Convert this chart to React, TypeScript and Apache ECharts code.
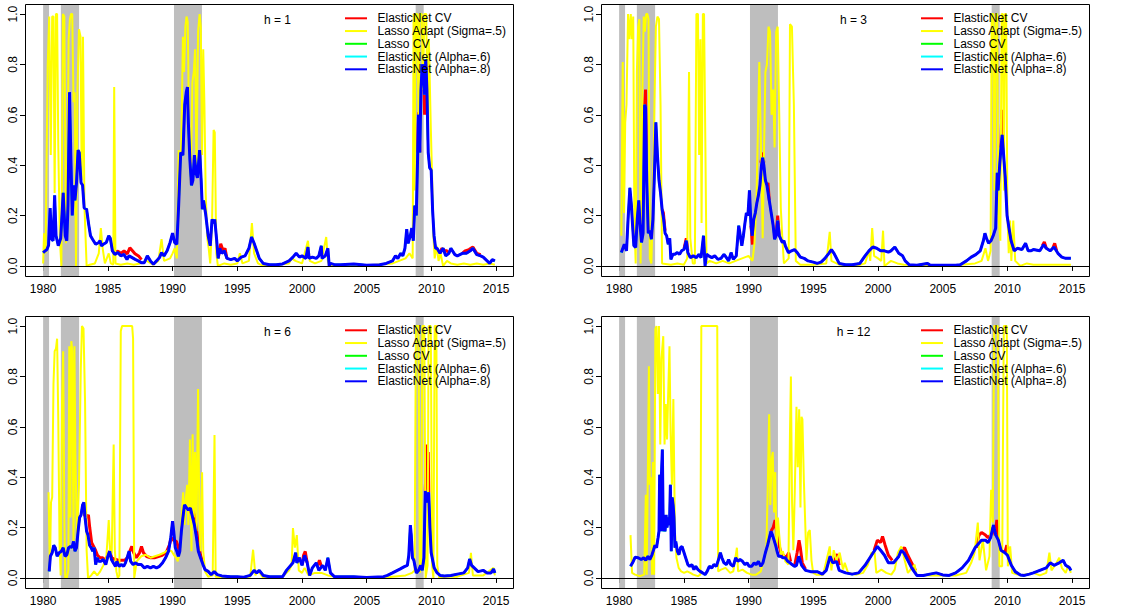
import React, { useEffect, useRef } from "react";
import * as echarts from "echarts";

// ---------------- data ----------------
const xTicks = [1980, 1985, 1990, 1995, 2000, 2005, 2010, 2015];
const yTicks = [0, 0.2, 0.4, 0.6, 0.8, 1.0];
const recessions = [
  [1980.0, 1980.46],
  [1981.37, 1982.78],
  [1990.11, 1992.27],
  [2008.78, 2009.4],
];
const seriesNames = [
  "ElasticNet CV",
  "Lasso Adapt (Sigma=.5)",
  "Lasso CV",
  "ElasticNet (Alpha=.6)",
  "ElasticNet (Alpha=.8)",
];
const seriesColors = ["#FF0000", "#FFFF00", "#00FF00", "#00FFFF", "#0000FF"];
const horizonLabels = ["h = 1", "h = 3", "h = 6", "h = 12"];

const blueH1 = [[1980.0,0.053],[1980.3,0.066],[1980.42,0.082],[1980.54,0.23],[1980.66,0.106],[1980.77,0.1],[1980.89,0.28],[1981.0,0.12],[1981.17,0.08],[1981.36,0.11],[1981.55,0.29],[1981.71,0.12],[1981.83,0.1],[1981.92,0.24],[1982.04,0.69],[1982.14,0.44],[1982.25,0.2],[1982.35,0.32],[1982.46,0.26],[1982.58,0.33],[1982.7,0.46],[1982.79,0.45],[1982.93,0.33],[1983.05,0.32],[1983.17,0.23],[1983.36,0.225],[1983.52,0.165],[1983.66,0.12],[1983.83,0.105],[1984.06,0.086],[1984.3,0.093],[1984.4,0.1],[1984.5,0.08],[1984.65,0.086],[1984.88,0.093],[1985.07,0.12],[1985.19,0.11],[1985.35,0.06],[1985.54,0.046],[1985.77,0.053],[1986.0,0.04],[1986.24,0.046],[1986.48,0.026],[1986.64,0.04],[1986.88,0.033],[1987.11,0.026],[1987.35,0.02],[1987.58,0.013],[1987.82,0.013],[1988.05,0.04],[1988.29,0.02],[1988.52,0.007],[1988.76,0.02],[1988.99,0.033],[1989.15,0.053],[1989.34,0.04],[1989.58,0.06],[1989.81,0.093],[1990.0,0.13],[1990.16,0.093],[1990.33,0.086],[1990.47,0.24],[1990.63,0.45],[1990.8,0.44],[1990.94,0.64],[1991.06,0.69],[1991.15,0.71],[1991.22,0.57],[1991.34,0.42],[1991.46,0.32],[1991.57,0.34],[1991.69,0.44],[1991.81,0.37],[1991.92,0.35],[1992.09,0.46],[1992.21,0.34],[1992.3,0.225],[1992.39,0.26],[1992.56,0.205],[1992.75,0.12],[1992.91,0.08],[1993.05,0.185],[1993.17,0.17],[1993.26,0.185],[1993.4,0.106],[1993.52,0.03],[1993.65,0.07],[1993.8,0.05],[1994.0,0.06],[1994.2,0.03],[1994.5,0.025],[1994.8,0.03],[1995.0,0.02],[1995.3,0.035],[1995.6,0.04],[1995.9,0.07],[1996.1,0.115],[1996.3,0.09],[1996.5,0.06],[1996.7,0.03],[1997.0,0.01],[1997.5,0.005],[1998.0,0.005],[1998.5,0.008],[1999.0,0.02],[1999.3,0.035],[1999.55,0.05],[1999.8,0.035],[2000.0,0.04],[2000.3,0.03],[2000.46,0.075],[2000.55,0.03],[2000.8,0.035],[2001.1,0.03],[2001.3,0.04],[2001.49,0.08],[2001.55,0.03],[2001.8,0.04],[2002.0,0.07],[2002.1,0.0],[2002.2,0.01],[2002.5,0.005],[2003.0,0.005],[2004.0,0.008],[2005.0,0.003],[2006.0,0.005],[2006.5,0.01],[2006.99,0.02],[2007.22,0.04],[2007.4,0.03],[2007.63,0.05],[2007.79,0.04],[2007.95,0.07],[2008.09,0.146],[2008.2,0.09],[2008.37,0.12],[2008.48,0.15],[2008.6,0.1],[2008.71,0.24],[2008.83,0.2],[2008.94,0.45],[2009.0,0.6],[2009.1,0.45],[2009.19,0.7],[2009.29,0.8],[2009.4,0.78],[2009.47,0.68],[2009.56,0.82],[2009.65,0.7],[2009.75,0.45],[2009.86,0.39],[2009.98,0.38],[2010.09,0.22],[2010.2,0.12],[2010.32,0.07],[2010.43,0.07],[2010.66,0.05],[2010.9,0.07],[2011.1,0.04],[2011.35,0.05],[2011.5,0.07],[2011.81,0.045],[2012.0,0.04],[2012.39,0.05],[2012.7,0.05],[2013.0,0.06],[2013.2,0.07],[2013.5,0.045],[2013.8,0.04],[2014.0,0.035],[2014.3,0.02],[2014.5,0.01],[2014.7,0.025],[2014.9,0.02]];

const yellowH1 = [[1980.0,0.01],[1980.07,0.13],[1980.19,0.05],[1980.35,0.79],[1980.47,0.99],[1980.59,0.44],[1980.7,0.99],[1980.8,0.99],[1980.89,0.29],[1980.99,1.0],[1981.08,1.0],[1981.17,0.48],[1981.29,0.11],[1981.41,0.0],[1981.53,1.0],[1981.64,0.99],[1981.76,0.09],[1981.88,0.34],[1981.97,0.9],[1982.07,0.98],[1982.16,1.0],[1982.25,1.0],[1982.35,0.65],[1982.44,0.69],[1982.54,0.0],[1982.65,0.69],[1982.77,0.94],[1982.89,0.91],[1982.98,0.34],[1983.08,0.91],[1983.19,0.24],[1983.36,0.0],[1983.6,0.005],[1984.0,0.01],[1984.3,0.05],[1984.46,0.15],[1984.6,0.07],[1984.77,0.01],[1985.07,0.05],[1985.23,0.01],[1985.42,0.005],[1985.49,0.71],[1985.59,0.01],[1986.0,0.005],[1986.5,0.01],[1987.0,0.005],[1987.5,0.01],[1988.0,0.02],[1988.5,0.005],[1988.9,0.02],[1989.15,0.106],[1989.34,0.02],[1989.81,0.03],[1990.0,0.05],[1990.16,0.07],[1990.33,0.03],[1990.47,0.46],[1990.56,0.29],[1990.68,0.5],[1990.8,0.91],[1990.89,0.77],[1990.99,0.95],[1991.08,0.99],[1991.17,0.97],[1991.29,0.5],[1991.41,0.33],[1991.53,0.73],[1991.64,0.77],[1991.74,0.86],[1991.85,0.37],[1991.97,0.93],[1992.09,1.0],[1992.18,0.95],[1992.28,0.44],[1992.37,0.86],[1992.46,0.64],[1992.56,0.29],[1992.68,0.11],[1992.79,0.07],[1992.91,0.01],[1993.05,0.17],[1993.17,0.54],[1993.26,0.53],[1993.38,0.05],[1993.5,0.0],[1994.0,0.01],[1994.5,0.005],[1995.0,0.01],[1995.2,0.05],[1995.4,0.01],[1995.9,0.02],[1996.13,0.17],[1996.3,0.05],[1996.6,0.01],[1997.0,0.0],[1998.0,0.005],[1999.0,0.01],[1999.2,0.03],[1999.5,0.02],[2000.0,0.01],[2000.46,0.1],[2000.6,0.02],[2001.0,0.01],[2001.5,0.02],[2001.87,0.115],[2002.0,0.02],[2002.1,0.0],[2003.0,0.003],[2005.0,0.002],[2007.0,0.01],[2007.5,0.02],[2008.0,0.03],[2008.3,0.05],[2008.55,0.03],[2008.62,1.0],[2008.7,0.3],[2008.78,1.0],[2008.9,1.0],[2009.0,0.6],[2009.08,1.0],[2009.25,1.0],[2009.35,0.7],[2009.45,1.0],[2009.6,1.0],[2009.7,0.5],[2009.8,0.9],[2009.95,0.55],[2010.05,0.35],[2010.15,0.12],[2010.25,0.03],[2010.4,0.08],[2010.55,0.02],[2010.7,0.05],[2010.9,0.0],[2011.2,0.02],[2011.5,0.01],[2012.0,0.005],[2012.5,0.01],[2013.0,0.005],[2013.5,0.01],[2014.0,0.005],[2014.5,0.01],[2014.9,0.005]];

const redH1 = [
  [[1985.3,0.065],[1985.5,0.055],[1985.8,0.058],[1986.0,0.05],[1986.25,0.06],[1986.5,0.048],[1986.7,0.072],[1986.9,0.06],[1987.1,0.048],[1987.4,0.038],[1987.6,0.025]],
  [[1993.52,0.03],[1993.72,0.088],[1993.9,0.06],[1994.05,0.07],[1994.2,0.03]],
  [[2008.94,0.45],[2009.0,0.61],[2009.1,0.45]],
  [[2009.4,0.78],[2009.47,0.6],[2009.5,0.64],[2009.56,0.82]],
  [[2010.66,0.05],[2010.8,0.07],[2011.0,0.06],[2011.2,0.06],[2011.35,0.05]],
  [[2012.39,0.05],[2012.6,0.06],[2012.9,0.065],[2013.2,0.075],[2013.5,0.05],[2013.8,0.045]],
];

const blueH3 = [[1980.17,0.053],[1980.4,0.086],[1980.57,0.06],[1980.69,0.185],[1980.83,0.31],[1980.95,0.24],[1981.04,0.16],[1981.14,0.08],[1981.28,0.073],[1981.4,0.185],[1981.52,0.26],[1981.61,0.17],[1981.73,0.093],[1981.85,0.13],[1981.97,0.64],[1982.04,0.63],[1982.13,0.34],[1982.25,0.13],[1982.37,0.14],[1982.49,0.106],[1982.61,0.185],[1982.73,0.37],[1982.84,0.57],[1982.96,0.44],[1983.08,0.34],[1983.2,0.29],[1983.32,0.225],[1983.44,0.185],[1983.55,0.13],[1983.67,0.12],[1983.79,0.086],[1983.91,0.11],[1984.0,0.026],[1984.15,0.046],[1984.31,0.046],[1984.5,0.053],[1984.67,0.046],[1984.83,0.06],[1985.02,0.066],[1985.19,0.1],[1985.31,0.053],[1985.5,0.033],[1985.73,0.04],[1985.97,0.033],[1986.16,0.046],[1986.33,0.033],[1986.52,0.12],[1986.64,0.0],[1986.75,0.046],[1986.92,0.04],[1987.16,0.033],[1987.39,0.04],[1987.63,0.026],[1987.87,0.03],[1988.1,0.046],[1988.29,0.033],[1988.46,0.02],[1988.65,0.053],[1988.82,0.026],[1989.05,0.04],[1989.24,0.16],[1989.36,0.12],[1989.48,0.08],[1989.6,0.12],[1989.72,0.17],[1989.83,0.21],[1989.95,0.2],[1990.07,0.3],[1990.19,0.16],[1990.28,0.12],[1990.4,0.185],[1990.52,0.21],[1990.64,0.25],[1990.76,0.28],[1990.88,0.32],[1991.0,0.4],[1991.09,0.43],[1991.18,0.4],[1991.3,0.34],[1991.42,0.32],[1991.54,0.28],[1991.66,0.24],[1991.78,0.2],[1991.9,0.16],[1992.01,0.106],[1992.13,0.12],[1992.25,0.18],[1992.37,0.12],[1992.49,0.106],[1992.61,0.093],[1992.73,0.1],[1992.84,0.08],[1993.08,0.053],[1993.32,0.06],[1993.55,0.065],[1993.8,0.05],[1994.0,0.035],[1994.3,0.03],[1994.6,0.02],[1995.0,0.015],[1995.3,0.01],[1995.6,0.015],[1995.9,0.03],[1996.2,0.05],[1996.4,0.065],[1996.6,0.05],[1996.8,0.03],[1997.0,0.01],[1997.5,0.005],[1998.0,0.005],[1998.6,0.01],[1999.0,0.04],[1999.3,0.06],[1999.6,0.075],[1999.9,0.07],[2000.2,0.06],[2000.5,0.06],[2000.8,0.055],[2001.0,0.06],[2001.3,0.075],[2001.6,0.05],[2001.9,0.04],[2002.1,0.02],[2002.4,0.005],[2003.0,0.003],[2003.8,0.01],[2004.0,0.004],[2005.0,0.003],[2006.0,0.003],[2006.35,0.005],[2006.83,0.02],[2007.2,0.035],[2007.55,0.045],[2007.9,0.06],[2008.14,0.1],[2008.26,0.13],[2008.38,0.11],[2008.54,0.09],[2008.73,0.1],[2008.9,0.12],[2009.09,0.15],[2009.21,0.37],[2009.28,0.3],[2009.4,0.4],[2009.5,0.47],[2009.59,0.52],[2009.69,0.45],[2009.83,0.35],[2009.97,0.2],[2010.12,0.15],[2010.28,0.1],[2010.52,0.06],[2010.76,0.07],[2011.12,0.065],[2011.4,0.09],[2011.6,0.06],[2011.83,0.06],[2012.0,0.065],[2012.5,0.06],[2012.8,0.085],[2013.0,0.07],[2013.3,0.06],[2013.6,0.075],[2013.9,0.05],[2014.2,0.035],[2014.5,0.03],[2014.9,0.03]];

const yellowH3 = [[1980.17,0.12],[1980.28,0.81],[1980.38,0.21],[1980.47,0.57],[1980.57,0.64],[1980.69,1.0],[1980.81,0.9],[1980.9,1.0],[1981.0,0.9],[1981.09,0.99],[1981.18,0.17],[1981.28,0.01],[1981.37,0.77],[1981.47,0.95],[1981.56,0.98],[1981.66,0.01],[1981.8,0.7],[1981.9,0.99],[1981.99,0.93],[1982.09,1.0],[1982.18,1.0],[1982.27,0.98],[1982.37,0.03],[1982.49,0.01],[1982.61,0.24],[1982.73,0.64],[1982.84,0.95],[1982.96,0.99],[1983.08,0.98],[1983.2,0.64],[1983.32,0.01],[1984.0,0.005],[1984.5,0.01],[1985.0,0.005],[1985.26,0.03],[1985.4,0.77],[1985.5,0.11],[1985.69,0.01],[1985.85,0.01],[1985.97,1.0],[1986.09,1.0],[1986.18,0.44],[1986.28,0.9],[1986.37,0.17],[1986.47,1.0],[1986.56,1.0],[1986.66,0.5],[1986.75,0.01],[1987.0,0.02],[1987.5,0.01],[1988.0,0.02],[1988.5,0.01],[1989.0,0.02],[1989.5,0.03],[1990.0,0.04],[1990.3,0.02],[1990.45,0.086],[1990.6,0.24],[1990.83,0.81],[1990.95,0.5],[1991.09,0.11],[1991.2,0.47],[1991.3,0.77],[1991.42,0.8],[1991.54,0.95],[1991.66,0.93],[1991.78,0.6],[1991.9,0.7],[1992.01,0.47],[1992.13,0.93],[1992.25,0.95],[1992.37,0.6],[1992.49,0.23],[1992.61,0.11],[1992.73,0.01],[1993.1,0.03],[1993.2,0.96],[1993.35,0.95],[1993.5,0.64],[1993.65,0.02],[1994.0,0.005],[1995.0,0.005],[1996.0,0.01],[1996.27,0.135],[1996.4,0.02],[1997.0,0.005],[1998.5,0.003],[1999.0,0.01],[1999.3,0.06],[1999.4,0.02],[1999.55,0.15],[1999.7,0.04],[2000.0,0.03],[2000.25,0.02],[2000.39,0.14],[2000.5,0.0],[2001.0,0.02],[2001.5,0.01],[2002.0,0.005],[2004.0,0.003],[2006.0,0.003],[2007.5,0.01],[2008.0,0.02],[2008.3,0.07],[2008.5,0.02],[2008.7,0.06],[2008.78,1.0],[2008.9,1.0],[2009.0,0.3],[2009.1,1.0],[2009.2,1.0],[2009.3,0.2],[2009.45,0.1],[2009.55,1.0],[2009.65,1.0],[2009.72,0.3],[2009.8,1.0],[2009.9,1.0],[2010.0,0.2],[2010.1,0.05],[2010.2,0.18],[2010.3,0.02],[2010.45,0.18],[2010.6,0.02],[2011.0,0.0],[2011.5,0.01],[2012.0,0.005],[2013.0,0.005],[2014.0,0.005],[2014.9,0.005]];

const redH3 = [
  [[1981.97,0.64],[1982.04,0.7],[1982.13,0.34]],
  [[1983.32,0.225],[1983.42,0.21],[1983.55,0.14]],
  [[1985.02,0.07],[1985.19,0.11],[1985.31,0.06]],
  [[1990.19,0.16],[1990.3,0.085],[1990.4,0.185]],
  [[1990.95,0.41],[1991.09,0.45],[1991.18,0.41]],
  [[1991.42,0.32],[1991.5,0.33],[1991.6,0.26]],
  [[1992.13,0.12],[1992.25,0.2],[1992.37,0.12]],
  [[2009.5,0.47],[2009.56,0.62],[2009.6,0.52]],
  [[2012.7,0.08],[2012.85,0.095],[2013.0,0.07]],
  [[2013.5,0.07],[2013.65,0.09],[2013.8,0.06]],
];

const blueH6 = [[1980.47,0.026],[1980.56,0.086],[1980.7,0.1],[1980.82,0.13],[1980.94,0.12],[1981.08,0.086],[1981.24,0.1],[1981.41,0.106],[1981.55,0.12],[1981.69,0.086],[1981.83,0.092],[1981.97,0.12],[1982.11,0.125],[1982.23,0.12],[1982.35,0.145],[1982.46,0.106],[1982.58,0.12],[1982.7,0.185],[1982.82,0.24],[1982.93,0.25],[1983.05,0.29],[1983.15,0.3],[1983.24,0.24],[1983.36,0.185],[1983.47,0.17],[1983.59,0.13],[1983.71,0.12],[1983.83,0.106],[1983.94,0.12],[1984.06,0.053],[1984.18,0.08],[1984.3,0.066],[1984.46,0.066],[1984.65,0.073],[1984.84,0.053],[1985.0,0.086],[1985.14,0.106],[1985.28,0.073],[1985.42,0.06],[1985.59,0.046],[1985.7,0.066],[1985.87,0.046],[1986.06,0.053],[1986.22,0.046],[1986.36,0.06],[1986.53,0.086],[1986.64,0.106],[1986.76,0.066],[1986.95,0.053],[1987.11,0.06],[1987.35,0.053],[1987.58,0.053],[1987.82,0.04],[1988.05,0.046],[1988.29,0.04],[1988.52,0.046],[1988.76,0.04],[1988.99,0.046],[1989.23,0.06],[1989.46,0.08],[1989.69,0.106],[1989.86,0.16],[1990.0,0.225],[1990.09,0.185],[1990.21,0.12],[1990.33,0.106],[1990.45,0.086],[1990.56,0.106],[1990.68,0.185],[1990.8,0.24],[1990.92,0.29],[1991.06,0.28],[1991.22,0.27],[1991.38,0.277],[1991.55,0.24],[1991.69,0.21],[1991.85,0.16],[1991.99,0.106],[1992.16,0.08],[1992.35,0.053],[1992.51,0.033],[1992.75,0.026],[1992.98,0.013],[1993.22,0.025],[1993.45,0.013],[1993.8,0.008],[1994.5,0.005],[1995.0,0.005],[1995.5,0.003],[1996.0,0.01],[1996.3,0.03],[1996.5,0.02],[1996.7,0.03],[1997.0,0.01],[1997.5,0.005],[1998.5,0.005],[1998.8,0.03],[1999.3,0.06],[1999.51,0.1],[1999.6,0.06],[1999.8,0.08],[2000.0,0.05],[2000.2,0.09],[2000.4,0.06],[2000.59,0.01],[2000.8,0.04],[2001.1,0.06],[2001.3,0.03],[2001.6,0.05],[2001.8,0.03],[2002.0,0.08],[2002.2,0.02],[2002.5,0.005],[2004.0,0.005],[2005.0,0.002],[2006.3,0.005],[2006.6,0.01],[2006.99,0.02],[2007.56,0.035],[2007.91,0.045],[2008.14,0.05],[2008.25,0.09],[2008.37,0.21],[2008.44,0.17],[2008.53,0.08],[2008.64,0.07],[2008.83,0.02],[2009.01,0.03],[2009.17,0.05],[2009.29,0.03],[2009.42,0.08],[2009.52,0.345],[2009.65,0.3],[2009.79,0.34],[2009.88,0.2],[2009.98,0.1],[2010.21,0.04],[2010.44,0.02],[2010.67,0.01],[2011.0,0.008],[2011.5,0.01],[2012.0,0.015],[2012.5,0.02],[2012.8,0.04],[2012.95,0.075],[2013.1,0.05],[2013.3,0.04],[2013.6,0.025],[2014.0,0.03],[2014.3,0.02],[2014.6,0.02],[2014.8,0.035],[2014.9,0.02]];

const yellowH6 = [[1980.42,0.34],[1980.52,0.03],[1980.61,0.3],[1980.7,0.32],[1980.8,0.77],[1980.89,0.9],[1980.99,0.91],[1981.08,0.95],[1981.17,0.63],[1981.27,0.13],[1981.36,0.01],[1981.46,0.7],[1981.55,0.9],[1981.64,0.24],[1981.71,0.0],[1981.83,0.0],[1981.95,0.03],[1982.02,0.92],[1982.11,0.24],[1982.18,0.94],[1982.25,0.9],[1982.35,0.11],[1982.42,0.92],[1982.49,0.5],[1982.61,0.16],[1982.77,0.37],[1982.91,0.83],[1983.0,1.0],[1983.12,0.99],[1983.24,0.7],[1983.36,0.11],[1983.47,0.0],[1983.71,0.01],[1983.94,0.026],[1984.18,0.01],[1984.41,0.026],[1984.65,0.05],[1984.88,0.08],[1985.07,0.23],[1985.19,0.08],[1985.3,0.1],[1985.45,0.53],[1985.54,0.11],[1985.66,0.026],[1985.77,0.0],[1985.89,0.01],[1986.0,0.98],[1986.1,1.0],[1986.88,1.0],[1986.95,0.95],[1987.04,0.0],[1987.23,0.066],[1987.58,0.086],[1987.93,0.092],[1988.29,0.08],[1988.64,0.086],[1988.99,0.092],[1989.34,0.1],[1989.69,0.11],[1989.93,0.106],[1990.09,0.092],[1990.28,0.08],[1990.4,0.066],[1990.56,0.106],[1990.7,0.24],[1990.82,0.34],[1990.92,0.21],[1991.03,0.32],[1991.13,0.37],[1991.22,0.21],[1991.34,0.55],[1991.46,0.106],[1991.55,0.57],[1991.64,0.24],[1991.74,0.5],[1991.85,0.185],[1991.97,0.75],[1992.07,0.24],[1992.16,0.106],[1992.28,0.42],[1992.37,0.106],[1992.51,0.026],[1992.75,0.005],[1993.1,0.01],[1993.24,0.567],[1993.33,0.005],[1994.0,0.003],[1995.0,0.003],[1996.0,0.005],[1996.22,0.112],[1996.4,0.01],[1996.6,0.03],[1997.0,0.0],[1998.5,0.005],[1999.0,0.03],[1999.2,0.05],[1999.3,0.198],[1999.45,0.12],[1999.6,0.17],[1999.75,0.03],[2000.0,0.02],[2000.2,0.04],[2000.5,0.01],[2001.0,0.02],[2001.5,0.02],[2002.0,0.01],[2003.0,0.002],[2006.5,0.002],[2007.0,0.005],[2008.0,0.01],[2008.5,0.02],[2008.7,0.03],[2008.8,1.0],[2009.0,1.0],[2009.1,0.02],[2009.2,0.05],[2009.3,1.0],[2009.45,1.0],[2009.55,0.0],[2009.7,0.05],[2009.78,1.0],[2009.95,1.0],[2010.05,0.05],[2010.15,0.0],[2010.25,1.0],[2010.38,1.0],[2010.45,0.05],[2010.6,0.0],[2011.0,0.005],[2012.0,0.005],[2012.9,0.02],[2013.05,0.1],[2013.2,0.01],[2014.0,0.01],[2014.8,0.04],[2014.9,0.01]];

const redH6 = [
  [[1983.05,0.29],[1983.2,0.25],[1983.35,0.24],[1983.5,0.25],[1983.6,0.2],[1983.75,0.14],[1983.9,0.125],[1984.05,0.11],[1984.2,0.09],[1984.4,0.08],[1984.6,0.08],[1984.8,0.07],[1985.0,0.09],[1985.14,0.106],[1985.3,0.08],[1985.5,0.075],[1985.8,0.07],[1986.0,0.07],[1986.3,0.07],[1986.5,0.08],[1986.65,0.1],[1986.85,0.125],[1987.0,0.1],[1987.2,0.08],[1987.45,0.1],[1987.6,0.125],[1987.75,0.1],[1988.0,0.085],[1988.3,0.08],[1988.6,0.08],[1988.9,0.085],[1989.2,0.09],[1989.5,0.1],[1989.75,0.13],[1989.9,0.16],[1990.05,0.15],[1990.3,0.145],[1990.45,0.12],[1990.56,0.106]],
  [[1991.22,0.27],[1991.4,0.26],[1991.55,0.27],[1991.7,0.25],[1991.85,0.19],[1992.0,0.13],[1992.16,0.09],[1992.35,0.06]],
  [[2000.0,0.05],[2000.12,0.09],[2000.25,0.105],[2000.4,0.06]],
  [[2001.1,0.06],[2001.2,0.05],[2001.35,0.07],[2001.5,0.045]],
  [[2009.52,0.345],[2009.63,0.53],[2009.7,0.35],[2009.75,0.5],[2009.8,0.34]],
];

const blueH12 = [[1980.88,0.046],[1981.04,0.06],[1981.23,0.082],[1981.47,0.08],[1981.71,0.073],[1981.9,0.08],[1982.06,0.07],[1982.23,0.086],[1982.37,0.073],[1982.54,0.092],[1982.65,0.11],[1982.77,0.13],[1982.89,0.12],[1983.01,0.16],[1983.08,0.185],[1983.13,0.41],[1983.2,0.185],[1983.27,0.41],[1983.34,0.51],[1983.41,0.185],[1983.48,0.25],[1983.55,0.185],[1983.63,0.25],[1983.7,0.2],[1983.79,0.24],[1983.89,0.21],[1983.96,0.37],[1984.03,0.106],[1984.1,0.32],[1984.17,0.29],[1984.24,0.24],[1984.31,0.12],[1984.38,0.145],[1984.5,0.106],[1984.62,0.092],[1984.74,0.12],[1984.86,0.125],[1984.98,0.106],[1985.14,0.08],[1985.31,0.053],[1985.45,0.046],[1985.62,0.053],[1985.78,0.033],[1985.92,0.046],[1986.09,0.033],[1986.26,0.026],[1986.45,0.02],[1986.64,0.013],[1986.8,0.026],[1986.97,0.046],[1987.16,0.04],[1987.32,0.053],[1987.51,0.046],[1987.68,0.073],[1987.82,0.1],[1987.94,0.08],[1988.1,0.06],[1988.29,0.053],[1988.46,0.073],[1988.63,0.053],[1988.82,0.046],[1989.0,0.08],[1989.17,0.066],[1989.34,0.073],[1989.53,0.066],[1989.72,0.053],[1989.88,0.06],[1990.05,0.046],[1990.24,0.046],[1990.43,0.06],[1990.59,0.053],[1990.76,0.066],[1990.95,0.046],[1991.11,0.06],[1991.3,0.1],[1991.47,0.13],[1991.61,0.16],[1991.73,0.185],[1991.85,0.17],[1991.97,0.15],[1992.09,0.13],[1992.2,0.106],[1992.32,0.086],[1992.49,0.086],[1992.65,0.08],[1992.84,0.08],[1993.03,0.066],[1993.2,0.06],[1993.36,0.053],[1993.55,0.046],[1993.7,0.05],[1993.88,0.086],[1994.1,0.05],[1994.4,0.03],[1994.8,0.025],[1995.3,0.025],[1995.7,0.015],[1996.0,0.03],[1996.3,0.086],[1996.5,0.06],[1996.8,0.065],[1997.0,0.03],[1997.5,0.02],[1998.0,0.015],[1998.5,0.02],[1999.0,0.05],[1999.5,0.09],[1999.95,0.125],[2000.2,0.11],[2000.5,0.09],[2000.8,0.06],[2001.2,0.06],[2001.6,0.085],[2001.8,0.11],[2002.0,0.1],[2002.3,0.07],[2002.6,0.04],[2003.0,0.01],[2003.5,0.01],[2004.0,0.015],[2004.5,0.02],[2005.0,0.012],[2005.5,0.01],[2006.0,0.02],[2006.5,0.04],[2007.0,0.07],[2007.5,0.12],[2008.0,0.15],[2008.3,0.15],[2008.5,0.14],[2008.7,0.16],[2008.92,0.21],[2009.1,0.17],[2009.3,0.15],[2009.5,0.11],[2009.8,0.1],[2010.0,0.09],[2010.3,0.05],[2010.6,0.025],[2011.0,0.012],[2011.3,0.01],[2011.7,0.015],[2012.0,0.02],[2012.5,0.03],[2013.0,0.04],[2013.3,0.06],[2013.6,0.05],[2014.0,0.06],[2014.3,0.07],[2014.5,0.05],[2014.8,0.04],[2014.9,0.03]];

const yellowH12 = [[1980.88,0.17],[1981.0,0.02],[1981.23,0.013],[1981.59,0.007],[1981.94,0.013],[1982.06,0.33],[1982.13,0.013],[1982.23,0.47],[1982.3,0.84],[1982.37,0.37],[1982.46,0.4],[1982.54,0.013],[1982.61,0.46],[1982.7,0.013],[1982.8,0.99],[1982.89,1.0],[1982.99,0.73],[1983.08,1.0],[1983.18,0.53],[1983.27,0.87],[1983.41,0.96],[1983.51,0.53],[1983.6,0.69],[1983.7,0.55],[1983.79,0.73],[1983.89,0.92],[1983.98,0.57],[1984.08,0.37],[1984.19,0.71],[1984.31,0.185],[1984.43,0.08],[1984.6,0.04],[1984.79,0.026],[1985.02,0.02],[1985.26,0.026],[1985.5,0.02],[1985.73,0.013],[1986.09,0.007],[1986.28,0.013],[1986.35,1.0],[1987.58,1.0],[1987.65,0.026],[1987.87,0.033],[1988.22,0.04],[1988.58,0.02],[1988.82,0.026],[1989.1,0.12],[1989.19,0.026],[1989.53,0.033],[1989.88,0.02],[1990.24,0.013],[1990.59,0.013],[1990.95,0.026],[1991.18,0.08],[1991.37,0.106],[1991.49,0.38],[1991.59,0.65],[1991.68,0.29],[1991.78,0.47],[1991.87,0.5],[1991.97,0.26],[1992.06,0.42],[1992.16,0.106],[1992.27,0.24],[1992.37,0.17],[1992.51,0.092],[1992.65,0.106],[1992.84,0.066],[1993.08,0.053],[1993.2,0.58],[1993.27,0.8],[1993.36,0.3],[1993.46,0.11],[1993.57,0.34],[1993.7,0.68],[1993.8,0.44],[1993.91,0.67],[1994.01,0.28],[1994.09,0.64],[1994.16,0.63],[1994.27,0.39],[1994.37,0.23],[1994.47,0.07],[1994.6,0.18],[1994.73,0.19],[1994.86,0.07],[1994.99,0.02],[1995.24,0.013],[1995.76,0.013],[1996.27,0.125],[1996.4,0.03],[1996.58,0.11],[1996.79,0.07],[1997.04,0.1],[1997.3,0.033],[1997.43,0.06],[1997.69,0.02],[1998.33,0.013],[1998.84,0.02],[1999.23,0.053],[1999.49,0.1],[1999.74,0.1],[1999.87,0.02],[2000.26,0.033],[2000.64,0.02],[2001.03,0.013],[2001.29,0.033],[2001.54,0.1],[2001.8,0.125],[2002.06,0.07],[2002.31,0.02],[2002.83,0.053],[2002.96,0.013],[2004.0,0.01],[2005.0,0.01],[2006.0,0.01],[2006.81,0.02],[2007.2,0.06],[2007.46,0.1],[2007.71,0.22],[2007.84,0.07],[2008.1,0.15],[2008.35,0.03],[2008.61,0.086],[2008.74,0.35],[2008.87,0.22],[2008.97,1.0],[2009.25,1.0],[2009.38,0.046],[2009.59,0.046],[2009.65,0.51],[2009.72,1.0],[2009.95,1.0],[2010.03,0.046],[2010.21,0.125],[2010.36,0.02],[2011.0,0.01],[2012.0,0.02],[2012.5,0.01],[2013.0,0.02],[2013.24,0.1],[2013.4,0.03],[2013.8,0.06],[2014.0,0.08],[2014.2,0.04],[2014.5,0.02],[2014.7,0.05],[2014.9,0.02]];

const redH12 = [
  [[1991.73,0.185],[1991.9,0.2],[1992.05,0.23],[1992.2,0.17],[1992.35,0.13],[1992.5,0.1],[1992.7,0.09],[1992.9,0.08],[1993.1,0.1],[1993.25,0.065]],
  [[1993.55,0.046],[1993.75,0.1],[1993.9,0.15],[1994.0,0.12],[1994.15,0.06],[1994.4,0.035]],
  [[1996.6,0.06],[1996.85,0.095],[1997.0,0.05]],
  [[1999.7,0.11],[1999.95,0.15],[2000.2,0.14],[2000.35,0.165],[2000.55,0.13],[2000.8,0.09],[2001.1,0.07]],
  [[2001.8,0.11],[2002.05,0.12],[2002.3,0.09],[2002.6,0.06],[2002.9,0.03]],
  [[2007.6,0.12],[2007.8,0.17],[2008.0,0.18],[2008.3,0.17],[2008.5,0.16],[2008.7,0.17],[2008.9,0.2],[2009.05,0.17],[2009.18,0.23],[2009.3,0.16]],
  [[2009.8,0.1],[2009.95,0.13],[2010.1,0.09]],
];

const blueData = [blueH1, blueH3, blueH6, blueH12];
const yellowData = [yellowH1, yellowH3, yellowH6, yellowH12];
const redData = [redH1, redH3, redH6, redH12];

// ---------------- layout ----------------
const FONT = '"Liberation Sans", Arial, Helvetica, sans-serif';
const BOX_W = 488;
const BOX_H = 272;
const X_MIN = 1978.6;
const X_MAX = 2016.3;
const Y_MIN = -0.04;
const Y_MAX = 1.04;
const panelPos = [
  { left: 25, top: 4 },
  { left: 601, top: 4 },
  { left: 25, top: 316 },
  { left: 601, top: 316 },
];

function joinSegments(segs: number[][][]) {
  const out: any[] = [];
  segs.forEach((s, i) => {
    if (i > 0) out.push([s[0][0], null]);
    s.forEach((p) => out.push(p));
  });
  return out;
}

function buildOption() {
  const grid: any[] = [];
  const xAxis: any[] = [];
  const yAxis: any[] = [];
  const series: any[] = [];
  const graphic: any[] = [];

  panelPos.forEach((p, i) => {
    grid.push({ left: p.left, top: p.top, width: BOX_W, height: BOX_H, show: false });
    xAxis.push({
      type: "value",
      gridIndex: i,
      min: X_MIN,
      max: X_MAX,
      axisLine: { show: false },
      splitLine: { show: false },
      minorTick: { show: false },
      axisTick: { show: true, length: 5, customValues: xTicks, lineStyle: { color: "#000", width: 1 } },
      axisLabel: {
        show: true,
        customValues: xTicks,
        formatter: (v: number) => String(Math.round(v)),
        color: "#000",
        fontSize: 12,
        fontFamily: FONT,
        margin: 7,
      },
    });
    yAxis.push({
      type: "value",
      gridIndex: i,
      min: Y_MIN,
      max: Y_MAX,
      axisLine: { show: false },
      splitLine: { show: false },
      minorTick: { show: false },
      axisTick: { show: true, length: 5, customValues: yTicks, lineStyle: { color: "#000", width: 1 } },
      axisLabel: {
        show: true,
        customValues: yTicks,
        formatter: (v: number) => v.toFixed(1),
        color: "#000",
        fontSize: 12,
        fontFamily: FONT,
        rotate: 90,
        align: "center",
        verticalAlign: "bottom",
        margin: 6,
      },
    });

    // recession bands
    series.push({
      type: "custom",
      xAxisIndex: i,
      yAxisIndex: i,
      silent: true,
      z: 1,
      data: recessions,
      renderItem: (params: any, api: any) => {
        const p0 = api.coord([api.value(0), Y_MAX]);
        const p1 = api.coord([api.value(1), Y_MIN]);
        return {
          type: "rect",
          shape: { x: p0[0], y: p0[1], width: p1[0] - p0[0], height: p1[1] - p0[1] },
          style: { fill: "#BEBEBE" },
        };
      },
    });

    const lineBase = {
      type: "line",
      xAxisIndex: i,
      yAxisIndex: i,
      showSymbol: false,
      symbol: "none",
      silent: true,
      z: 2,
    };
    series.push({ ...lineBase, name: seriesNames[0], data: joinSegments(redData[i]), lineStyle: { color: seriesColors[0], width: 3 } });
    series.push({ ...lineBase, name: seriesNames[1], data: yellowData[i], lineStyle: { color: seriesColors[1], width: 2 } });
    series.push({ ...lineBase, name: seriesNames[2], data: blueData[i], lineStyle: { color: seriesColors[2], width: 2 } });
    series.push({ ...lineBase, name: seriesNames[3], data: blueData[i], lineStyle: { color: seriesColors[3], width: 2 } });
    series.push({
      ...lineBase,
      name: seriesNames[4],
      data: blueData[i],
      lineStyle: { color: seriesColors[4], width: 3 },
      markLine: {
        silent: true,
        symbol: ["none", "none"],
        label: { show: false },
        lineStyle: { color: "#000", width: 1, type: "solid" },
        data: [{ yAxis: 0 }],
      },
    });

    // frame
    graphic.push({
      type: "rect",
      z: 100,
      silent: true,
      shape: { x: p.left + 0.5, y: p.top + 0.5, width: BOX_W, height: BOX_H },
      style: { fill: "none", stroke: "#000", lineWidth: 1 },
    });
    // horizon label
    graphic.push({
      type: "text",
      z: 100,
      x: p.left + 252.5,
      y: p.top + 16,
      style: { text: horizonLabels[i], font: `12px ${FONT}`, fill: "#000", textAlign: "center", textVerticalAlign: "middle" },
    });
    // legend
    seriesNames.forEach((name, k) => {
      const ly = p.top + 14.3 + k * 12.75;
      graphic.push({
        type: "line",
        z: 100,
        silent: true,
        shape: { x1: p.left + 320, y1: ly, x2: p.left + 342, y2: ly },
        style: { stroke: seriesColors[k], lineWidth: 2 },
      });
      graphic.push({
        type: "text",
        z: 100,
        x: p.left + 352.5,
        y: ly,
        style: { text: name, font: `12px ${FONT}`, fill: "#000", textAlign: "left", textVerticalAlign: "middle" },
      });
    });
  });

  return { animation: false, backgroundColor: "#fff", grid, xAxis, yAxis, series, graphic };
}

export default function App() {
  const ref = useRef<HTMLDivElement>(null);
  useEffect(() => {
    if (!ref.current) return;
    const chart = echarts.init(ref.current, undefined, { renderer: "svg" });
    chart.setOption(buildOption() as any);
    return () => chart.dispose();
  }, []);
  return (
    <div
      ref={ref}
      style={{ position: "fixed", left: 0, top: 0, width: 1146, height: 613, background: "#fff" }}
    />
  );
}
